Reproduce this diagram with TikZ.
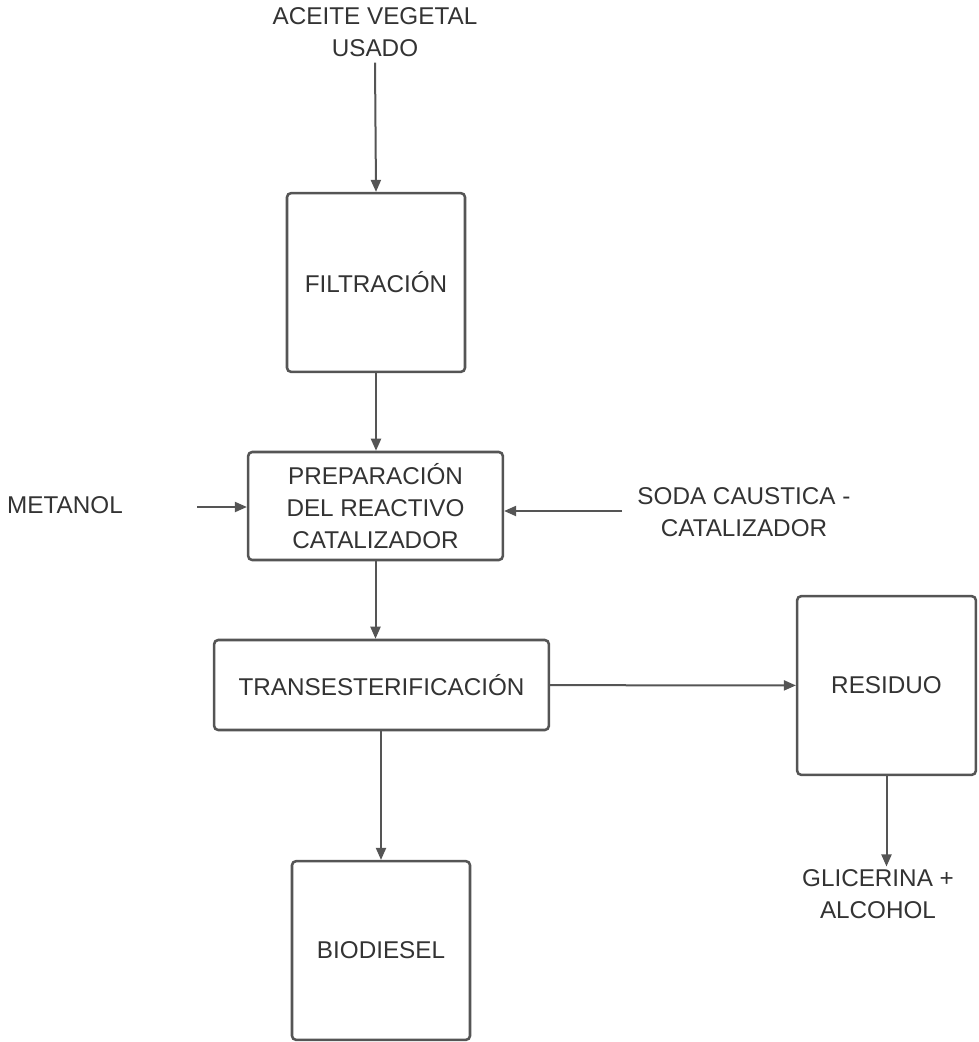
\documentclass[tikz,border=0pt]{standalone}
\usepackage{fontspec}
\setmainfont{Liberation Sans}
\usepackage{tikz}
\usetikzlibrary{arrows.meta}
\usetikzlibrary{positioning}
\definecolor{linegray}{HTML}{555555}
\definecolor{textgray}{HTML}{333333}
\tikzset{>={Triangle[length=9pt,width=7.5pt]}}
\tikzstyle{proc} = [rectangle, rounded corners=3pt, draw=linegray, line width=1.9pt, fill=white, text=textgray, align=center, inner sep=0pt]
\tikzstyle{lbl} = [draw=none, text=textgray, align=center, inner sep=2pt]
\tikzstyle{flow} = [->, draw=linegray, line width=1.5pt]

\begin{document}
\begin{tikzpicture}[x=0.75pt, y=-0.75pt, font=\fontsize{18.2}{24}\selectfont]
\useasboundingbox (0,0) rectangle (978,1042);
\node [lbl] (ACE) at (375, 32) {ACEITE VEGETAL\\USADO};
\node [proc, minimum width=133.5pt, minimum height=134pt] (FIL) at (376, 282.5) {FILTRACIÓN};
\node [proc, minimum width=191pt, minimum height=81pt] (PRE) at (375.5, 506) {PREPARACIÓN\\DEL REACTIVO\\CATALIZADOR};
\node [lbl] (MET) at (65, 505) {METANOL};
\coordinate (met) at (197, 507);
\node [lbl] (SOD) at (744, 512) {SODA CAUSTICA -\\CATALIZADOR};
\coordinate (sod) at (622, 511);
\node [proc, minimum width=251pt, minimum height=67.5pt] (TRA) at (381.5, 685) {TRANSESTERIFICACIÓN};
\node [proc, minimum width=134pt, minimum height=134pt] (RES) at (886.5, 685.5) {RESIDUO};
\node [lbl] (GLI) at (878, 894) {GLICERINA +\\ALCOHOL};
\node [proc, minimum width=133.5pt, minimum height=134pt] (BIO) at (381, 950.5) {BIODIESEL};
\draw [flow] (ACE.south) ++(0,3) to (FIL.north);
\draw [flow] (FIL) to (FIL |- PRE.north);
\draw [flow] (met) to (met -| PRE.west);
\draw [flow] (sod) to (sod -| PRE.east);
\draw [flow] (PRE) to (PRE |- TRA.north);
\draw [flow] (TRA) to (RES);
\draw [flow] (TRA.south -| BIO.north) to (BIO.north);
\draw [flow] (RES) to (RES |- GLI.north);
\end{tikzpicture}
\end{document}
